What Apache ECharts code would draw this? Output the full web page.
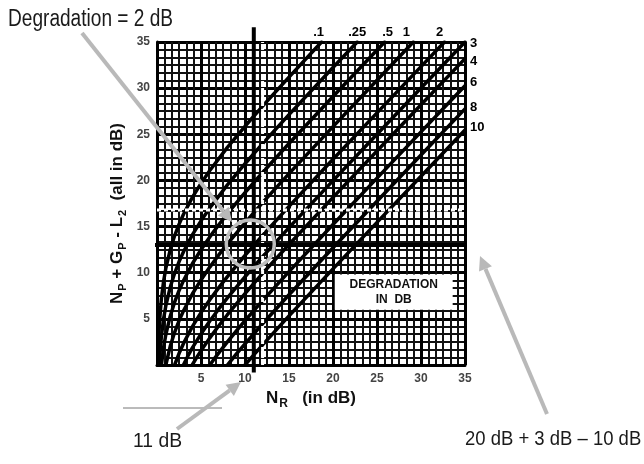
<!DOCTYPE html>
<html><head><meta charset="utf-8">
<script src="https://cdn.jsdelivr.net/npm/echarts/dist/echarts.min.js"></script>
<style>html,body{margin:0;padding:0;background:#fff}#c{width:644px;height:464px}</style>
</head><body><div id="c"></div>
<script>
// ---- data ----
const axisTicks = [0, 5, 10, 15, 20, 25, 30, 35];
const curveNames = ['.1', '.25', '.5', '1', '2', '3', '4', '6', '8', '10'];
const curveD01 = [[0.1,0],[0.15,1.78],[0.2,3.06],[0.3,4.87],[0.5,7.19],[0.75,9.08],[1,10.46],[1.5,12.48],[2,14.0],[2.5,15.24],[3,16.31],[4,18.13],[5,19.68],[6,21.07],[8,23.58],[10,25.87],[12,28.05],[15,31.19],[18.7,35]];
const curveD025 = [[0.25,0],[0.3,0.81],[0.5,3.13],[0.75,5.02],[1,6.40],[1.5,8.42],[2,9.94],[2.5,11.18],[3,12.25],[4,14.07],[5,15.62],[6,17.01],[8,19.52],[10,21.81],[12,23.99],[15,27.13],[20,32.23],[22.75,35]];
const curveD05 = [[0.5,0],[0.75,1.89],[1,3.27],[1.5,5.29],[2,6.81],[2.5,8.05],[3,9.12],[4,10.94],[5,12.49],[6,13.88],[7,15.17],[8,16.39],[10,18.68],[12,20.86],[15,24.0],[20,29.1],[25.87,35]];
const curveD1 = [[1,0],[1.5,2.02],[2,3.54],[2.5,4.78],[3,5.85],[4,7.67],[5,9.22],[6,10.61],[7,11.9],[8,13.12],[10,15.41],[12,17.59],[15,20.73],[20,25.83],[25,30.86],[29.13,35]];
const curveD2 = [[2,0],[2.5,1.24],[3,2.31],[4,4.13],[5,5.68],[6,7.07],[7,8.36],[8,9.58],[10,11.87],[12,14.05],[15,17.19],[20,22.29],[25,27.32],[30,32.33],[32.67,35]];
const curveD3 = [[3,0],[3.5,0.95],[4,1.82],[5,3.37],[6,4.76],[7,6.05],[8,7.27],[10,9.56],[12,11.74],[15,14.88],[20,19.98],[25,25.01],[30,30.02],[35,35]];
const curveD4 = [[4,0],[4.5,0.80],[5,1.55],[6,2.94],[7,4.23],[8,5.45],[10,7.74],[12,9.92],[15,13.06],[20,18.16],[25,23.19],[30,28.2],[35,33.2]];
const curveD6 = [[6,0],[6.5,0.66],[7,1.29],[8,2.51],[9,3.68],[10,4.80],[12,6.98],[15,10.12],[20,15.22],[25,20.25],[30,25.26],[35,30.26]];
const curveD8 = [[8,0],[8.5,0.59],[9,1.17],[10,2.29],[12,4.47],[15,7.61],[20,12.71],[25,17.74],[30,22.75],[35,27.75]];
const curveD10 = [[10,0],[10.5,0.55],[11,1.10],[12,2.18],[15,5.32],[20,10.42],[25,15.45],[30,20.46],[35,25.46]];
const markerNR = 11;          // vertical black marker
const markerY = 13;           // horizontal black marker (20 + 3 - 10)
const dottedNR = 12;          // white dotted vertical
const dottedY = 16.8;         // white dotted horizontal

const curves = [curveD01, curveD025, curveD05, curveD1, curveD2, curveD3, curveD4, curveD6, curveD8, curveD10];
// label placement for the curve names
const topLabelShift = { '.1': -3, '.25': 0, '.5': 3, '1': -7, '2': -5 };
const rightLabelShift = { '3': 1, '4': 3, '6': -3, '8': -1, '10': -3 };

const chart = echarts.init(document.getElementById('c'), null, { renderer: 'canvas' });
const BOLD = 'Liberation Sans, Arial, sans-serif';

const curveSeries = curves.map((d, i) => {
  const name = curveNames[i];
  const onTop = name in topLabelShift;
  return {
    type: 'line', name, data: d, showSymbol: false, symbol: 'none',
    smooth: false, silent: true, z: 3,
    lineStyle: { color: '#000', width: 3.5, join: 'round', cap: 'round' },
    endLabel: {
      show: true, formatter: name, color: '#000', fontFamily: BOLD, fontWeight: 'bold', fontSize: 13,
      align: onTop ? 'center' : 'left', verticalAlign: onTop ? 'bottom' : 'middle',
      offset: onTop ? [topLabelShift[name], -3] : [5, rightLabelShift[name]], distance: 0
    }
  };
});

function markerLine(data, color, width, type, z) {
  return { type: 'line', data, showSymbol: false, symbol: 'none', clip: false, silent: true, z,
    lineStyle: { color, width, type } };
}

const option = {
  animation: false,
  backgroundColor: '#fff',
  grid: { left: 157, right: 179, top: 42, bottom: 99, containLabel: false },
  xAxis: {
    type: 'value', min: 0, max: 35, interval: 5,
    name: '{n|N}{s|R}{n|   (in dB)}', nameLocation: 'middle', nameGap: 21,
    nameTextStyle: { rich: {
      n: { fontFamily: BOLD, fontWeight: 'bold', fontSize: 17, color: '#111' },
      s: { fontFamily: BOLD, fontWeight: 'bold', fontSize: 12, color: '#111', padding: [11, 0, 0, 1] } } },
    axisLine: { show: true, lineStyle: { color: '#000', width: 3 } },
    axisTick: { show: false },
    axisLabel: { margin: 8, color: '#444', fontFamily: BOLD, fontWeight: 'bold', fontSize: 12,
      formatter: v => (axisTicks.includes(v) && v !== 0) ? String(v) : '' },
    splitLine: { show: true, lineStyle: { color: '#000', width: 3 } },
    minorTick: { show: false, splitNumber: 6 },
    minorSplitLine: { show: true, lineStyle: { color: '#111', width: 2 } }
  },
  yAxis: {
    type: 'value', min: 0, max: 35, interval: 5,
    name: '{n|N}{s|P}{n| + G}{s|P}{n| - L}{s|2}{n|  (all in dB)}', nameLocation: 'middle', nameGap: 29, nameRotate: 90,
    nameTextStyle: { padding: [0, 20, 0, 0], rich: {
      n: { fontFamily: BOLD, fontWeight: 'bold', fontSize: 17, color: '#111' },
      s: { fontFamily: BOLD, fontWeight: 'bold', fontSize: 11, color: '#111', padding: [11, 0, 0, 1] } } },
    axisLine: { show: true, lineStyle: { color: '#000', width: 3 } },
    axisTick: { show: false },
    axisLabel: { margin: 7, color: '#444', fontFamily: BOLD, fontWeight: 'bold', fontSize: 12,
      formatter: v => (axisTicks.includes(v) && v !== 0) ? String(v) : '' },
    splitLine: { show: true, lineStyle: { color: '#000', width: 3 } },
    minorTick: { show: false, splitNumber: 6 },
    minorSplitLine: { show: true, lineStyle: { color: '#111', width: 2 } }
  },
  series: curveSeries.concat([
    markerLine([[dottedNR, 0], [dottedNR, 35]], '#fff', 3, [4, 3], 4),
    markerLine([[0, dottedY], [35, dottedY]], '#fff', 3, [4, 3], 4),
    markerLine([[-1.4, markerY], [36.4, markerY]], '#000', 4, 'solid', 5),
    markerLine([[markerNR, -0.8], [markerNR, 36.6]], '#000', 4, 'solid', 5)
  ])
};
chart.setOption(option);

// ---- annotations (grey arrows, circle, notes, legend box) ----
function arrow(x1, y1, x2, y2) {
  const ang = Math.atan2(y2 - y1, x2 - x1), L = 14, W = 7;
  const bx = x2 - L * Math.cos(ang), by = y2 - L * Math.sin(ang);
  const px = -Math.sin(ang) * W, py = Math.cos(ang) * W;
  return [
    { type: 'line', shape: { x1, y1, x2: bx, y2: by }, style: { stroke: '#b9b9b9', lineWidth: 4 }, z: 100 },
    { type: 'polygon', shape: { points: [[x2, y2], [bx + px, by + py], [bx - px, by - py]] }, style: { fill: '#b9b9b9' }, z: 100 }
  ];
}
function note(text, x, y, size, sx) {
  return { type: 'text', x, y, scaleX: sx, style: { text, fill: '#1a1a1a', font: size + 'px ' + BOLD, verticalAlign: 'middle' }, z: 100 };
}
const c = chart.convertToPixel({ gridIndex: 0 }, [10.6, 13.1]);
const boxTL = chart.convertToPixel({ gridIndex: 0 }, [20.2, 9.8]);
const boxBR = chart.convertToPixel({ gridIndex: 0 }, [33.6, 6.0]);
const graphic = [
  { type: 'rect', shape: { x: boxTL[0], y: boxTL[1], width: boxBR[0] - boxTL[0], height: boxBR[1] - boxTL[1] }, style: { fill: '#fff' }, z: 50 },
  { type: 'text', x: (boxTL[0] + boxBR[0]) / 2, y: boxTL[1] + 10, style: { text: 'DEGRADATION', fill: '#111', font: 'bold 12px ' + BOLD, align: 'center', verticalAlign: 'middle' }, z: 51 },
  { type: 'text', x: (boxTL[0] + boxBR[0]) / 2, y: boxTL[1] + 25, style: { text: 'IN  DB', fill: '#111', font: 'bold 12px ' + BOLD, align: 'center', verticalAlign: 'middle' }, z: 51 },
  { type: 'circle', shape: { cx: c[0], cy: c[1], r: 24 }, style: { fill: 'none', stroke: '#bdbdbd', lineWidth: 3.5 }, z: 100 },
  { type: 'line', shape: { x1: 123, y1: 408, x2: 222, y2: 408 }, style: { stroke: '#777', lineWidth: 1 }, z: 1 },
  note('Degradation = 2 dB', 8, 20, 23, 0.83),
  note('11 dB', 133, 441, 21, 0.92),
  note('20 dB + 3 dB \u2013 10 dB', 465, 439, 21, 0.88)
].concat(arrow(82, 33, 232, 222), arrow(177, 429, 241, 382), arrow(547, 414, 480, 256));
chart.setOption({ graphic });
</script>
</body></html>
